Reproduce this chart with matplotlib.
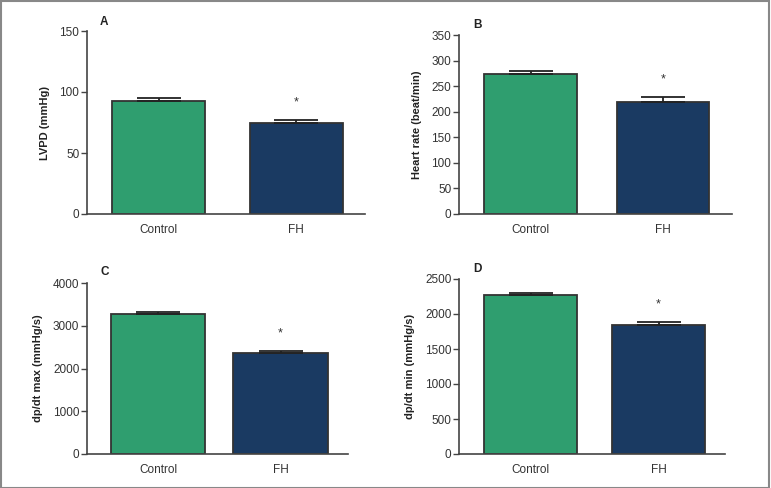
import matplotlib
matplotlib.use("Agg")
import matplotlib.pyplot as plt
from matplotlib.patches import Rectangle

plt.rcParams['font.family'] = ['Liberation Sans', 'DejaVu Sans']

categories = ["Control", "FH"]

lvpd_mean = [92.6, 74.3]
lvpd_err = [2.7, 2.7]

hr_mean = [273.7, 219.6]
hr_err = [6.5, 8.5]

dpmax_mean = [3285, 2370]
dpmax_err = [30, 38]

dpmin_mean = [2272, 1850]
dpmin_err = [28, 33]

panels = [
    dict(letter="A", mean=lvpd_mean, err=lvpd_err, ylabel="LVPD (mmHg)",
         ylim=(0, 150), ticks=[0, 50, 100, 150]),
    dict(letter="B", mean=hr_mean, err=hr_err, ylabel="Heart rate (beat/min)",
         ylim=(0, 350), ticks=[0, 50, 100, 150, 200, 250, 300, 350]),
    dict(letter="C", mean=dpmax_mean, err=dpmax_err, ylabel="dp/dt max (mmHg/s)",
         ylim=(0, 4000), ticks=[0, 1000, 2000, 3000, 4000]),
    dict(letter="D", mean=dpmin_mean, err=dpmin_err, ylabel="dp/dt min (mmHg/s)",
         ylim=(0, 2500), ticks=[0, 500, 1000, 1500, 2000, 2500]),
]

W, H = 771, 488
fig = plt.figure(figsize=(W / 100, H / 100), dpi=100)

# axes rectangles in pixels: left, right, top, bottom
rects = [
    (87, 365, 31, 214),
    (459, 732, 35, 214),
    (87, 348, 283, 454),
    (459, 725, 279, 454),
]
xlims = [(-0.52, 1.50), (-0.54, 1.52), (-0.58, 1.55), (-0.56, 1.52)]
widths = [0.676, 0.70, 0.77, 0.73]
letter_pos = [(100, 22), (473, 25), (100, 272), (473, 269)]

colors = ["#2f9e6f", "#1a3a62"]
edge = "#333333"

for p, r, xl, w, lp in zip(panels, rects, xlims, widths, letter_pos):
    l, rr, t, b = r
    ax = fig.add_axes([l / W, 1 - b / H, (rr - l) / W, (b - t) / H])
    x = list(range(len(categories)))
    ax.bar(x, p["mean"], width=w, color=colors, edgecolor=edge, linewidth=1.3, zorder=2)
    ax.errorbar(x, p["mean"], yerr=[[0, 0], p["err"]], fmt="none", ecolor="#222222",
                elinewidth=1.3, capsize=16, capthick=1.3, zorder=3)
    ax.annotate("*", xy=(1, p["mean"][1] + p["err"][1]), xytext=(0, 13),
                textcoords="offset points", ha="center", va="center",
                fontsize=9, color="#333333")
    ax.set_xlim(*xl)
    ax.set_ylim(*p["ylim"])
    ax.set_yticks(p["ticks"])
    ax.set_xticks(x)
    ax.set_xticklabels(categories)
    for s in ["top", "right"]:
        ax.spines[s].set_visible(False)
    for s in ["left", "bottom"]:
        ax.spines[s].set_color("#444444")
        ax.spines[s].set_linewidth(1.2)
    ax.tick_params(axis="y", length=4, width=1.0, color="#444444", labelsize=8.5,
                   labelcolor="#333333", pad=1.5)
    ax.tick_params(axis="x", length=0, labelsize=8.5, labelcolor="#333333", pad=7)
    ax.set_ylabel(p["ylabel"], fontsize=8, fontweight="bold", color="#222222", labelpad=7)
    fig.text(lp[0] / W, 1 - lp[1] / H, p["letter"], fontsize=8.5, fontweight="bold",
             color="#222222", ha="left", va="center")

fig.patches.append(Rectangle((0.001, 0.001), 0.997, 0.997, transform=fig.transFigure,
                             fill=False, edgecolor="#888888", linewidth=1.5))

fig.savefig("out.png", dpi=100)
